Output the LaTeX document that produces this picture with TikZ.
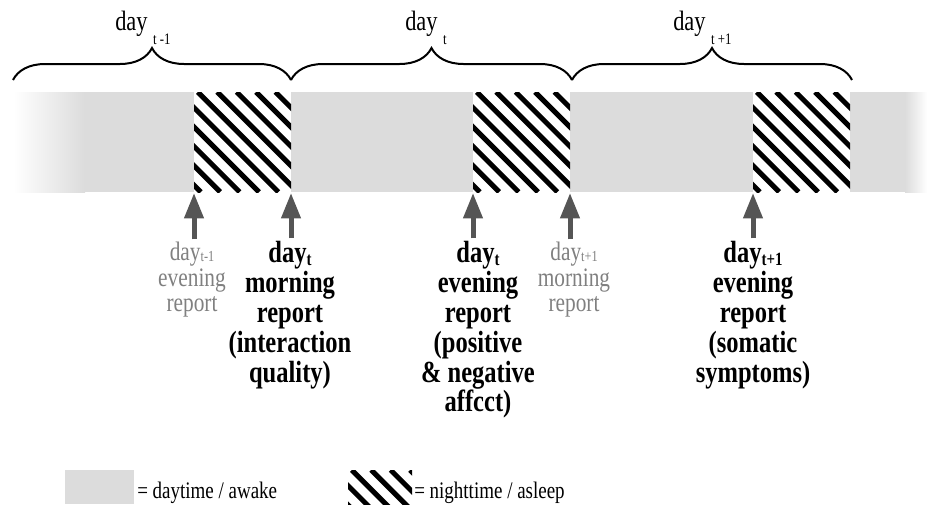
\documentclass[tikz,border=0pt]{standalone}
\usepackage{fontspec}
\setmainfont{Liberation Serif}[FakeStretch=0.8]
\usetikzlibrary{arrows.meta,decorations.pathreplacing}
\definecolor{daygray}{HTML}{DCDCDC}
\definecolor{reportgray}{HTML}{808080}
\definecolor{arrowgray}{HTML}{555555}
\newcommand\lowsub[3]{\raisebox{#1}{\fontsize{#2}{#2}\selectfont #3}}

\begin{document}
\begin{tikzpicture}[x=0.75pt,y=-0.75pt,
daybrace/.style={draw,line width=1.5pt,decorate,decoration={brace,amplitude=24pt}},
nightstripe/.style={line width=3.8pt},
reparrow/.style={draw=arrowgray,line width=3.75pt,-{Triangle[width=14pt,length=19pt]},shorten <=2pt},
greyreport/.style={text=reportgray,align=center,inner sep=0pt,font=\fontsize{20}{19}\selectfont},
boldreport/.style={align=center,inner sep=0pt,font=\fontsize{23}{22.4}\selectfont\bfseries},
toplabel/.style={anchor=base west,inner sep=0pt,font=\fontsize{21}{21}\selectfont}]
\useasboundingbox (0,0) rectangle (927,504);

% day / night band
\fill[daygray] (85,92) rectangle (905,192);
\shade[left color=white,right color=daygray] (13,92) rectangle (85,192);
\shade[left color=daygray,right color=white] (905,92) rectangle (927,192);
\foreach \x in {194,473,753}{
  \fill[white] (\x,92) rectangle ++(97,100);
  \begin{scope}
    \clip (\x,92) rectangle ++(97,100);
    \foreach \k in {-6,...,5}
      \draw[nightstripe] ({\x+3.8+19.4*\k},92) -- ++(100,100);
  \end{scope}
}

% braces
\coordinate (b0) at (13,80);
\coordinate (b1) at (291,80);
\coordinate (b2) at (572,80);
\coordinate (b3) at (852,80);
\draw[daybrace] (b0) -- (b1);
\draw[daybrace] (b1) -- (b2);
\draw[daybrace] (b2) -- (b3);
\node[toplabel] (dlast) at (115,30) {day \lowsub{-11pt}{12}{t -1}};
\node[toplabel] (dnow) at (405,30) {day \lowsub{-11pt}{12}{t}};
\node[toplabel] (dnext) at (673,30) {day \lowsub{-11pt}{12}{t +1}};

% report times
\coordinate (n1) at (194,193);
\coordinate (n2) at (291,193);
\coordinate (n3) at (473,193);
\coordinate (n4) at (570,193);
\coordinate (n5) at (753,193);

\node[greyreport,anchor=north] (evlast) at (192,242) {day\lowsub{-0.5pt}{11.5}{t-1}\\evening\\report};
\node[boldreport,anchor=north] (mornnow) at (290,241) {day\lowsub{-2pt}{14}{t}\\morning\\report\\(interaction\\quality)};
\node[boldreport,anchor=north] (evnow) at (478,241) {day\lowsub{-2pt}{14}{t}\\evening\\report\\(positive\\\& negative\\affcct)};
\node[greyreport,anchor=north] (mornnext) at (574,242) {day\lowsub{-0.5pt}{11.5}{t+1}\\morning\\report};
\node[boldreport,anchor=north] (evnext) at (753,241) {day\lowsub{-2pt}{14}{t+1}\\evening\\report\\(somatic\\symptoms)};

\draw[reparrow] (n1 |- evlast.north) -- (n1);
\draw[reparrow] (n2 |- mornnow.north) -- (n2);
\draw[reparrow] (n3 |- evnow.north) -- (n3);
\draw[reparrow] (n4 |- mornnext.north) -- (n4);
\draw[reparrow] (n5 |- evnext.north) -- (n5);

% legend
\fill[daygray] (65,470) rectangle (134,504);
\node[anchor=base west,inner sep=0pt,font=\fontsize{17.8}{17.8}\selectfont] (daykey) at (137,498) {= daytime / awake};
\fill[white] (348,470) rectangle (412,504);
\begin{scope}
  \clip (348,470) rectangle (412,504);
  \foreach \k in {-2,...,3}
    \draw[nightstripe] ({348+3.8+19.4*\k},470) -- ++(40,40);
\end{scope}
\node[anchor=base west,inner sep=0pt,font=\fontsize{17.8}{17.8}\selectfont] (nightkey) at (414,498) {= nighttime / asleep};
\end{tikzpicture}
\end{document}
